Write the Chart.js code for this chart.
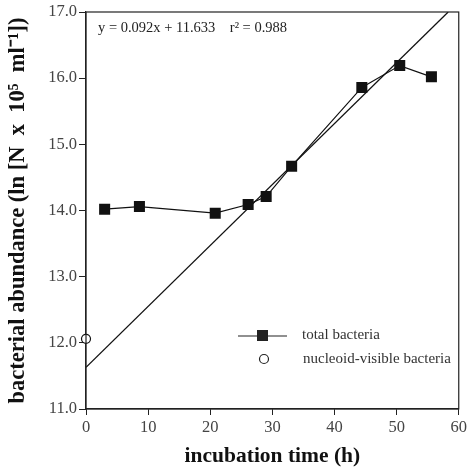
<!DOCTYPE html>
<html>
<head>
<meta charset="utf-8">
<script src="https://cdn.jsdelivr.net/npm/chart.js@4"></script>
<style>
  html, body { margin: 0; padding: 0; background: #fff; }
  #wrap { width: 470px; height: 469px; }
</style>
</head>
<body>
<div id="wrap"><canvas id="myChart" width="470" height="469"></canvas></div>
<script>
// total bacteria (h, ln N)
var hours = [3, 8.6, 20.8, 26.1, 29.0, 33.1, 44.4, 50.5, 55.6];
var totalLn = [14.02, 14.06, 13.96, 14.09, 14.21, 14.67, 15.86, 16.19, 16.02];
// nucleoid-visible bacteria
var nvHours = [0];
var nvLn = [12.06];
// regression line end points
var fitHours = [0, 58.3];
var fitLn = [11.63, 17.0];
var xTicks = [0, 10, 20, 30, 40, 50, 60];
var yTicks = [11, 12, 13, 14, 15, 16, 17];
var equation = "y = 0.092x + 11.633    r\u00B2 = 0.988";

function toPts(xs, ys) {
    var out = [];
    for (var i = 0; i < xs.length; i++) out.push({ x: xs[i], y: ys[i] });
    return out;
}

// frame + equation + legend drawn on top
var extras = {
    id: 'extras',
    afterDraw: function (chart) {
        var ctx = chart.ctx;
        var a = chart.chartArea;
        ctx.save();
        ctx.strokeStyle = '#222';
        ctx.lineWidth = 1.2;
        ctx.strokeRect(a.left, a.top, a.right - a.left, a.bottom - a.top);

        ctx.fillStyle = '#222';
        ctx.font = '14.5px "Liberation Serif", serif';
        ctx.textBaseline = 'middle';
        ctx.fillText(equation, a.left + 12, a.top + 16);

        // legend
        ctx.beginPath();
        ctx.moveTo(238, 336);
        ctx.lineTo(287, 336);
        ctx.stroke();
        ctx.fillRect(257, 330, 11, 11);
        ctx.beginPath();
        ctx.arc(264, 359, 4.5, 0, Math.PI * 2);
        ctx.fillStyle = '#fff';
        ctx.fill();
        ctx.stroke();
        ctx.fillStyle = '#333';
        ctx.font = '15px "Liberation Serif", serif';
        ctx.fillText('total bacteria', 302, 335);
        ctx.fillText('nucleoid-visible bacteria', 303, 359);
        ctx.restore();
    }
};

var config = {
    type: 'scatter',
    data: {
        datasets: [
            {
                label: 'total bacteria',
                data: toPts(hours, totalLn),
                showLine: true,
                borderColor: '#111',
                borderWidth: 1.2,
                pointStyle: 'rect',
                pointRadius: 7.8,
                pointBackgroundColor: '#111',
                pointBorderColor: '#111',
                pointBorderWidth: 0
            },
            {
                label: 'nucleoid-visible bacteria',
                data: toPts(nvHours, nvLn),
                clip: false,
                pointStyle: 'circle',
                pointRadius: 4.5,
                pointBackgroundColor: '#fff',
                pointBorderColor: '#111',
                pointBorderWidth: 1.2
            },
            {
                label: 'fit',
                data: toPts(fitHours, fitLn),
                showLine: true,
                borderColor: '#111',
                borderWidth: 1.3,
                pointRadius: 0
            }
        ]
    },
    options: {
        responsive: false,
        animation: false,
        layout: { padding: { top: 12, right: 9, left: 0, bottom: 0 } },
        plugins: {
            legend: { display: false },
            tooltip: { enabled: false }
        },
        scales: {
            x: {
                type: 'linear',
                min: 0,
                max: 60,
                afterBuildTicks: function (axis) {
                    axis.ticks = xTicks.map(function (v) { return { value: v }; });
                },
                afterFit: function (axis) { axis.height = 60; },
                grid: { drawOnChartArea: false, tickLength: 6, color: '#222' },
                border: { color: '#222', width: 1.2 },
                ticks: {
                    color: '#444',
                    padding: 3,
                    maxRotation: 0,
                    font: { family: '"Liberation Serif", serif', size: 16.5 }
                },
                title: {
                    display: true,
                    text: 'incubation time (h)',
                    color: '#111',
                    padding: { top: 5, bottom: 0 },
                    font: { family: '"Liberation Serif", serif', size: 21.5, weight: 'bold' }
                }
            },
            y: {
                type: 'linear',
                min: 11,
                max: 17,
                afterBuildTicks: function (axis) {
                    axis.ticks = yTicks.map(function (v) { return { value: v }; });
                },
                afterFit: function (axis) { axis.width = 86; },
                grid: { drawOnChartArea: false, tickLength: 7, color: '#222' },
                border: { color: '#222', width: 1.2 },
                ticks: {
                    color: '#444',
                    padding: 2,
                    font: { family: '"Liberation Serif", serif', size: 16.5 },
                    callback: function (v) { return v.toFixed(1); }
                },
                title: {
                    display: true,
                    text: 'bacterial abundance (ln [N  x  10\u2075  ml\u207B\u00B9])',
                    color: '#111',
                    padding: { top: 5, bottom: 0 },
                    font: { family: '"Liberation Serif", serif', size: 22.5, weight: 'bold' }
                }
            }
        }
    },
    plugins: [extras]
};

var myChart = new Chart(document.getElementById('myChart'), config);
</script>
</body>
</html>
